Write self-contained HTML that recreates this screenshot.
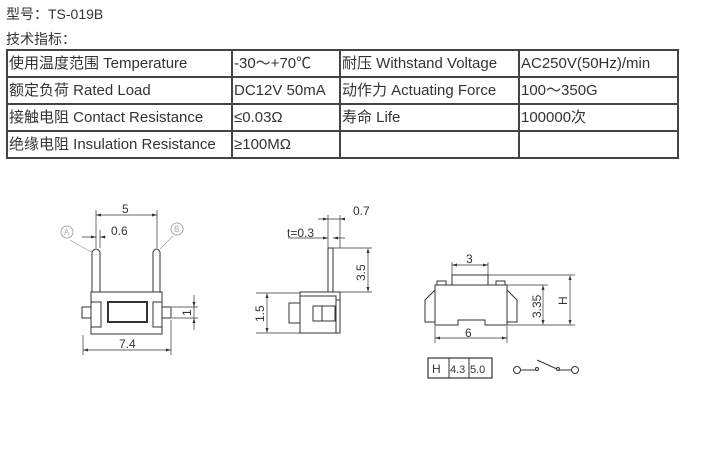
<!DOCTYPE html>
<html><head><meta charset="utf-8"><style>
body{margin:0;width:724px;height:450px;background:#fff;position:relative;overflow:hidden;font-family:"Liberation Sans","Noto Sans CJK SC",sans-serif;color:#333}
.t{position:absolute;left:6px;font-size:14px}
table{position:absolute;left:6px;top:49px;border-collapse:collapse;font-size:15px;color:#333}
td{border:2px solid #444;height:25px;padding:0 0 0 1px;white-space:nowrap;line-height:25px}
svg{position:absolute;left:0;top:0}
</style></head><body>
<div class="t" style="top:4px">型号：TS-019B</div>
<div class="t" style="top:29px">技术指标：</div>
<table>
<tr><td style="width:222px">使用温度范围 Temperature</td><td style="width:105px">-30～+70℃</td><td style="width:176px">耐压 Withstand Voltage</td><td style="width:156px">AC250V(50Hz)/min</td></tr>
<tr><td>额定负荷 Rated Load</td><td>DC12V 50mA</td><td>动作力 Actuating Force</td><td>100～350G</td></tr>
<tr><td>接触电阻 Contact Resistance</td><td>≤0.03Ω</td><td>寿命 Life</td><td>100000次</td></tr>
<tr><td>绝缘电阻 Insulation Resistance</td><td>≥100MΩ</td><td></td><td></td></tr>
</table>
<svg width="724" height="450" font-family="Liberation Sans,sans-serif" font-size="12" fill="none" stroke="#333" stroke-width="1">
<rect x="91" y="292" width="71" height="42"/>
<rect x="108" y="302" width="39" height="20" stroke-width="2"/>
<rect x="91" y="302" width="10" height="25"/><rect x="153" y="302" width="9" height="25"/>
<rect x="82" y="307" width="9" height="11"/><rect x="162" y="307" width="9" height="11"/>
<path d="M92 292V252Q96 246 100 252V292M153 292V252Q156.5 246 160 252V292"/>
<path d="M96 248V210M157 248V210M96 215H157M82 237H96M100 237H106M96 248V230M100 248V230" stroke-width=".7"/>
<path d="M83 335V355M171 320V355M83 350H171M172 307H198M172 318H198M194 295V330" stroke-width=".7"/>
<circle cx="67" cy="232" r="6" stroke="#aaa"/><circle cx="177" cy="229" r="6" stroke="#aaa"/>
<path d="M70 240L91 252M173 236L160 249" stroke="#999" stroke-width=".7"/>
<rect x="328" y="248" width="5" height="44"/>
<rect x="300" y="292" width="40" height="41"/>
<path d="M300 296H336V333M340 292V300H336"/>
<rect x="289" y="303" width="11" height="20"/>
<rect x="313" y="306" width="22" height="15"/><path d="M322 306V321"/>
<path d="M328 248V215M340 248V215M318 219H345M288 238H328M333 238H345M333 248H372M340 292H372M368 250V290M256 293H300M256 333H300M267 295V331" stroke-width=".7"/>
<rect x="452" y="275" width="36" height="10"/>
<path d="M435 325V285H507V325H485V320H458V325Z"/>
<path d="M435 290L425 300V322H435M507 290L517 300V322H507M437 285V281H446V285M496 285V281H505V285"/>
<path d="M452 275V262M488 275V262M452 265H488M435 326V343M507 326V343M435 338H507M488 275H575M507 285H548M507 325H575M543 287V323M570 277V323" stroke-width=".7"/>
<rect x="428" y="358" width="64" height="20" stroke-width="1.2"/><path d="M449 358V378M469 358V378"/>
<circle cx="517" cy="370" r="3.5"/><path d="M520 370H536M537 360L557 369M558 370H572"/>
<circle cx="537" cy="369" r="1.5"/><circle cx="558" cy="369" r="1.5"/><circle cx="575" cy="370" r="3.5"/>
<g fill="#333" stroke="none">
<text x="122" y="213">5</text><text x="111" y="235">0.6</text><text x="119" y="348">7.4</text>
<text x="64" y="235" font-size="8" fill="#aaa">A</text><text x="174" y="232" font-size="8" fill="#aaa">B</text>
<text transform="translate(191,316) rotate(-90)">1</text>
<text x="353" y="215">0.7</text><text x="287" y="237">t=0.3</text>
<text transform="translate(365,281) rotate(-90)">3.5</text><text transform="translate(264,322) rotate(-90)">1.5</text>
<text x="466" y="263">3</text><text x="465" y="337">6</text>
<text transform="translate(541,318) rotate(-90)">3.35</text><text transform="translate(567,305) rotate(-90)">H</text>
<text x="432" y="373" font-size="12">H</text><text x="450" y="373" font-size="11">4.3</text><text x="470" y="373" font-size="11">5.0</text>
</g>
<g fill="#333" stroke="none">
<path d="M96 215l5-1.5v3zM157 215l-5-1.5v3zM96 237l-5-1.5v3zM100 237l5-1.5v3zM83 350l5-1.5v3zM171 350l-5-1.5v3zM194 307l-1.5-5h3zM194 318l-1.5 5h3zM328 219l-5-1.5v3zM340 219l5-1.5v3zM328 238l-5-1.5v3zM333 238l5-1.5v3zM368 248l-1.5 5h3zM368 292l-1.5-5h3zM267 293l-1.5 5h3zM267 333l-1.5-5h3zM452 265l5-1.5v3zM488 265l-5-1.5v3zM435 338l5-1.5v3zM507 338l-5-1.5v3zM543 285l-1.5 5h3zM543 325l-1.5-5h3zM570 275l-1.5 5h3zM570 325l-1.5-5h3z"/>
</g>
</svg>
</body></html>
